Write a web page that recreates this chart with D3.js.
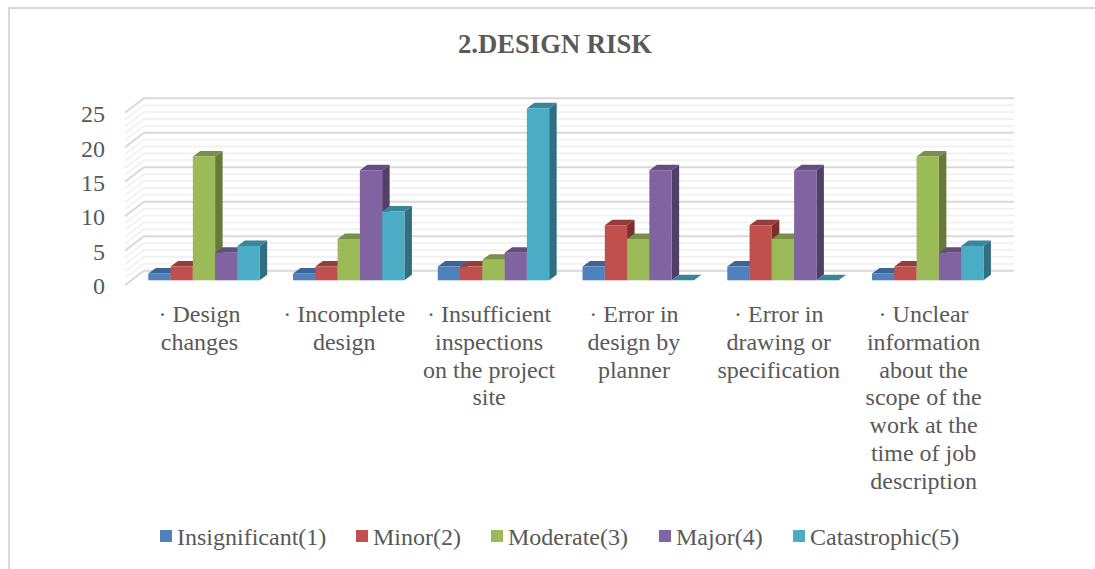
<!DOCTYPE html>
<html>
<head>
<meta charset="utf-8">
<script src="https://cdn.jsdelivr.net/npm/d3@7"></script>
<style>
  html, body { margin: 0; padding: 0; background: #fff; overflow: hidden; }
  text { font-family: "Liberation Serif", serif; fill: #595959; }
</style>
</head>
<body>
<div id="container"></div>
<script>
/* DATA */
const categories = ["design", "incomplete", "inspections", "planner", "drawing", "unclear"];
const categoryLines = [
  ["· Design", "changes"],
  ["· Incomplete", "design"],
  ["· Insufficient", "inspections", "on the project", "site"],
  ["· Error in", "design by", "planner"],
  ["· Error in", "drawing or", "specification"],
  ["· Unclear", "information", "about the", "scope of the", "work at the", "time of job", "description"]
];
const seriesNames = ["Insignificant(1)", "Minor(2)", "Moderate(3)", "Major(4)", "Catastrophic(5)"];
const insignificant = [1, 1, 2, 2, 2, 1];
const minor = [2, 2, 2, 8, 8, 2];
const moderate = [18, 6, 3, 6, 6, 18];
const major = [4, 16, 4, 16, 16, 4];
const catastrophic = [5, 10, 25, 0, 0, 5];
const seriesValues = [insignificant, minor, moderate, major, catastrophic];
const yTicks = [0, 5, 10, 15, 20, 25];
const minorTicks = d3.range(0, 26);

/* COLORS: front, top, side */
const colors = [
  ["#4f81bd", "#3c6494", "#2f5079"],
  ["#c0504d", "#943d3b", "#7d2f2d"],
  ["#9bbb59", "#789047", "#667a3a"],
  ["#8064a2", "#634d7d", "#523f68"],
  ["#4bacc6", "#39869b", "#2f6f80"]
];

const width = 1095, height = 569;
const depthX = 7.5, depthY = 5.5;

const svg = d3.select("#container")
  .append("svg")
  .attr("width", width)
  .attr("height", height);

// chart border, only top and left are in the picture
svg.append("path")
  .attr("d", `M9,${height}V8H${width}`)
  .attr("fill", "none")
  .attr("stroke", "#d9d9d9")
  .attr("stroke-width", 2);

svg.append("text")
  .attr("x", 555)
  .attr("y", 53)
  .attr("text-anchor", "middle")
  .attr("font-size", 26.67)
  .attr("font-weight", "bold")
  .text("2.DESIGN RISK");

/* SCALES */
const x = d3.scaleBand().domain(categories).range([131.6, 1000.1]);
const bar = d3.scaleBand().domain(d3.range(5)).range([0, 111.4]);
const yBar = d3.scaleLinear().domain([0, 25]).range([280.3, 108.3]);
const yWall = d3.scaleLinear().domain([0, 25]).range([270.7, 98.3]);
const yLabel = d3.scaleLinear().domain([0, 25]).range([286, 114]);

/* WALLS */
const wallLeft = 144, wallRight = 1014, floorLeft = 125;

svg.append("g").selectAll("path")
  .data(minorTicks.filter(d => !yTicks.includes(d)))
  .join("path")
  .attr("d", d => `M${floorLeft},${yWall(d) + 14.4}L${wallLeft},${yWall(d)}H${wallRight}`)
  .attr("fill", "none")
  .attr("stroke", "#f2f2f2")
  .attr("stroke-width", 2);

svg.append("g").selectAll("path")
  .data(yTicks)
  .join("path")
  .attr("d", d => `M${floorLeft},${yWall(d) + 14.4}L${wallLeft},${yWall(d)}H${wallRight}`)
  .attr("fill", "none")
  .attr("stroke", "#d9d9d9")
  .attr("stroke-width", 2);

/* BARS */
const bars = svg.append("g");
categories.forEach((cat, c) => {
  seriesValues.forEach((values, s) => {
    const v = values[c];
    const x0 = x(cat) + x.bandwidth() / 2 - bar.step() * 2.5 + bar(s);
    const w = bar.bandwidth();
    const top = yBar(v);
    const base = yBar(0);
    const g = bars.append("g");
    // side face
    g.append("path")
      .attr("d", `M${x0 + w},${top}l${depthX},${-depthY}V${base - depthY}l${-depthX},${depthY}Z`)
      .attr("fill", colors[s][2]);
    // top face
    g.append("path")
      .attr("d", `M${x0},${top}l${depthX},${-depthY}h${w}l${-depthX},${depthY}Z`)
      .attr("fill", colors[s][1]);
    // front face
    g.append("rect")
      .attr("x", x0)
      .attr("y", top)
      .attr("width", w)
      .attr("height", base - top)
      .attr("fill", colors[s][0]);
  });
});

/* AXES */
const yAxis = svg.append("g")
  .attr("transform", "translate(105,0)")
  .call(d3.axisLeft(yLabel).tickValues(yTicks).tickSize(0).tickPadding(0));
yAxis.select(".domain").remove();
yAxis.selectAll("text")
  .attr("font-size", 24)
  .attr("dy", "0.32em")
  .style("font-family", '"Liberation Serif", serif')
  .style("fill", "#595959");

const labelX = d3.scaleBand().domain(categories).range([127, 996]);
svg.append("g").selectAll("text")
  .data(categories)
  .join("text")
  .attr("text-anchor", "middle")
  .attr("font-size", 24)
  .each(function(d, i) {
    d3.select(this).selectAll("tspan")
      .data(categoryLines[i])
      .join("tspan")
      .attr("x", labelX(d) + labelX.bandwidth() / 2)
      .attr("y", (t, j) => 322 + j * 27.8)
      .text(t => t);
  });

/* LEGEND */
const legendX = [160, 356, 491, 659, 793];
const legend = svg.append("g").selectAll("g")
  .data(seriesNames)
  .join("g")
  .attr("transform", (d, i) => `translate(${legendX[i]},530)`);
legend.append("rect")
  .attr("width", 12)
  .attr("height", 12)
  .attr("fill", (d, i) => colors[i][0]);
legend.append("text")
  .attr("x", 17)
  .attr("y", 15)
  .attr("font-size", 24)
  .text(d => d);
</script>
</body>
</html>
